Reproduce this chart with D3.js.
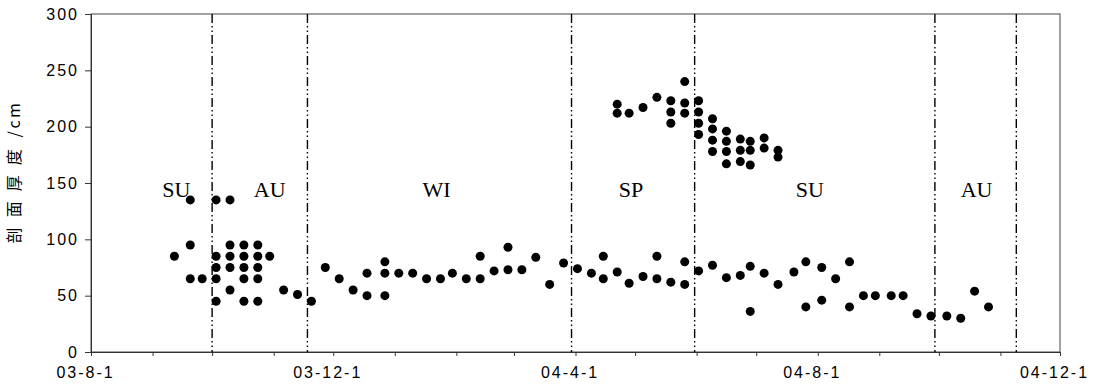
<!DOCTYPE html>
<html>
<head>
<meta charset="utf-8">
<script src="https://cdn.jsdelivr.net/npm/d3@7"></script>
<style>
  html, body { margin: 0; padding: 0; background: #fff; }
  svg { display: block; }
  .tick text { font-family: "Liberation Sans", Arial, sans-serif; font-size: 16px; letter-spacing: 2px; fill: #000; }
  .domain, .tick line { stroke: #333; }
</style>
</head>
<body>
<svg id="chart" width="1100" height="386"></svg>
<script>
// Weekly profile thickness (cm), lower layer; several readings per date where present
const sampleDates = [
  "2003-09-12","2003-09-20","2003-09-26","2003-10-03","2003-10-10","2003-10-17","2003-10-24","2003-10-30",
  "2003-11-06","2003-11-13","2003-11-20","2003-11-27","2003-12-04","2003-12-11","2003-12-18","2003-12-27",
  "2004-01-03","2004-01-10","2004-01-17","2004-01-24","2004-01-30","2004-02-06","2004-02-13","2004-02-20",
  "2004-02-27","2004-03-05","2004-03-12","2004-03-19","2004-03-26","2004-04-02","2004-04-09","2004-04-15",
  "2004-04-22","2004-04-28","2004-05-05","2004-05-12","2004-05-19","2004-05-26","2004-06-02","2004-06-09",
  "2004-06-16","2004-06-23","2004-06-28","2004-07-05","2004-07-12","2004-07-20","2004-07-26","2004-08-03",
  "2004-08-10","2004-08-17","2004-08-24","2004-08-30","2004-09-07","2004-09-13","2004-09-20","2004-09-27",
  "2004-10-05","2004-10-12","2004-10-19","2004-10-26"
];
const depths = [
  [85],[135,95,65],[65],[135,85,75,65,45],[135,95,85,75,55],[95,85,75,65,45],[95,85,75,65,45],[85],
  [55],[51],[45],[75],[65],[55],[70,50],[80,70,50],
  [70],[70],[65],[65],[70],[65],[85,65],[72],
  [93,73],[73],[84],[60],[79],[74],[70],[85,65],
  [71],[61],[67],[85,65],[62],[80,60],[72],[77],
  [66],[68],[76,36],[70],[60],[71],[80,40],[75,46],
  [65],[80,40],[50],[50],[50],[50],[34],[32],
  [32],[30],[54],[40]
];

// Upper layer readings during spring and early summer 2004
const upperDates = [
  "2004-04-22","2004-04-28","2004-05-05","2004-05-12","2004-05-19","2004-05-26","2004-06-02",
  "2004-06-09","2004-06-16","2004-06-23","2004-06-28","2004-07-05","2004-07-12"
];
const upperDepths = [
  [220,212],[212],[217],[226],[223,213,203],[240,221,212],[223,213,203,193],
  [207,198,188,178],[196,187,178,167],[189,179,169],[187,179,166],[190,181],[179,173]
];

// Season boundaries and season names
const seasonBounds = ["2003-10-01","2003-11-18","2004-03-30","2004-05-31","2004-09-29","2004-11-09"];
const seasonNames = ["SU","AU","WI","SP","SU","AU"];
const seasonLabelDates = ["2003-09-13","2003-10-30","2004-01-22","2004-04-29","2004-07-28","2004-10-20"];

const yTicks = [0, 50, 100, 150, 200, 250, 300];
const xLabelMonths = ["2003-08-01","2003-12-01","2004-04-01","2004-08-01","2004-12-01"];
const yTitleName = "剖面厚度";
const yTitleUnit = "/cm";

const parse = d3.timeParse("%Y-%m-%d");
const svg = d3.select("#chart");
const plotLeft = 91, plotRight = 1060, plotTop = 14, plotBottom = 352;

const x = d3.scaleTime().domain([parse("2003-08-01"), parse("2004-12-01")]).range([plotLeft, plotRight]);
const y = d3.scaleLinear().domain([0, 300]).range([plotBottom, plotTop]);

// frame
svg.append("rect")
  .attr("x", plotLeft).attr("y", plotTop)
  .attr("width", plotRight - plotLeft).attr("height", plotBottom - plotTop)
  .attr("fill", "none").attr("stroke", "#444").attr("stroke-width", 1);

// season boundary lines
svg.append("g").selectAll("line")
  .data(seasonBounds.map(parse))
  .join("line")
  .attr("x1", d => x(d)).attr("x2", d => x(d))
  .attr("y1", plotTop).attr("y2", plotBottom)
  .attr("stroke", "#000").attr("stroke-width", 1.4)
  .attr("stroke-dasharray", "9,3,1.5,3,1.5,3");

// x axis: monthly ticks, labels every four months
const labelSet = new Set(xLabelMonths);
const fmtKey = d3.timeFormat("%Y-%m-%d");
const fmtLabel = d3.timeFormat("%y-%-m-%-d");
const xAxis = svg.append("g")
  .attr("transform", `translate(0,${plotBottom})`)
  .call(d3.axisBottom(x)
    .ticks(d3.timeMonth.every(1))
    .tickSize(4)
    .tickSizeOuter(0)
    .tickFormat(d => labelSet.has(fmtKey(d)) ? fmtLabel(d) : ""));
xAxis.selectAll(".tick text").attr("dy", "1.2em").attr("dx", -6);

// y axis
const yAxis = svg.append("g")
  .attr("transform", `translate(${plotLeft},0)`)
  .call(d3.axisLeft(y).tickValues(yTicks).tickSize(6).tickSizeOuter(0).tickFormat(d3.format("d")));
yAxis.selectAll(".tick text").attr("x", -12);

// y axis title: spaced characters followed by the unit
const title = svg.append("text")
  .attr("transform", "translate(20,172) rotate(-90)")
  .attr("text-anchor", "middle")
  .attr("font-family", "'Noto Sans CJK SC', sans-serif")
  .attr("font-size", 16);
title.append("tspan").attr("letter-spacing", 10).text(yTitleName);
title.append("tspan").attr("dx", 2).attr("letter-spacing", 2.5).text(yTitleUnit);

// season names
svg.append("g").selectAll("text")
  .data(seasonNames.map((n, i) => ({ name: n, date: parse(seasonLabelDates[i]) })))
  .join("text")
  .attr("x", d => x(d.date))
  .attr("y", 197)
  .attr("text-anchor", "middle")
  .attr("font-family", "'Liberation Serif', 'Times New Roman', serif")
  .attr("font-size", 22)
  .text(d => d.name);

// points
const flatten = (dates, vals) => dates.flatMap((d, i) => vals[i].map(v => ({ date: parse(d), v })));
const points = flatten(sampleDates, depths).concat(flatten(upperDates, upperDepths));

svg.append("g").selectAll("circle")
  .data(points)
  .join("circle")
  .attr("cx", d => x(d.date))
  .attr("cy", d => y(d.v))
  .attr("r", 4.5)
  .attr("fill", "#000");
</script>
</body>
</html>
